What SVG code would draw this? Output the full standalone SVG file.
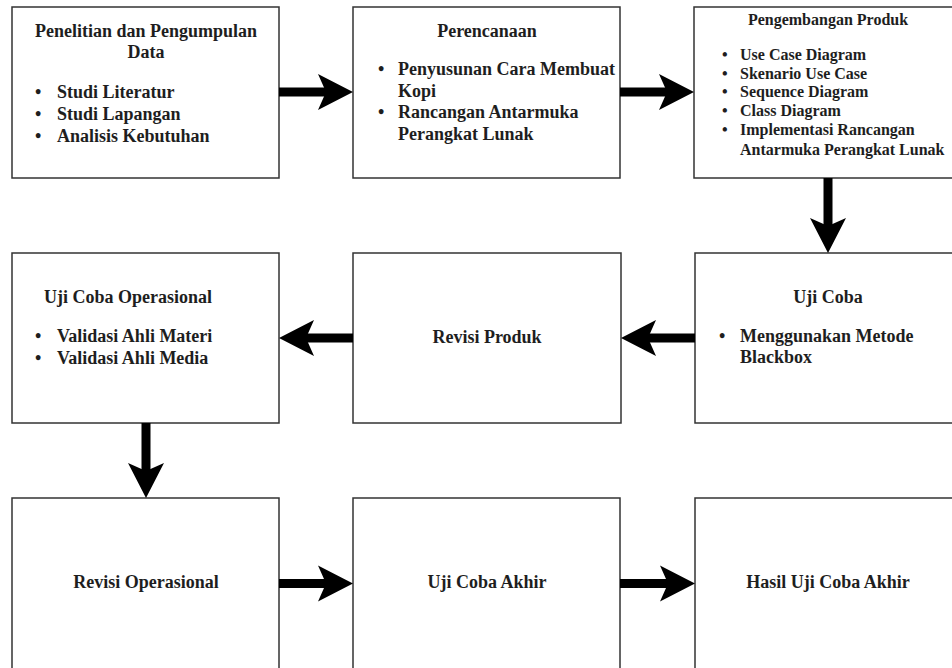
<svg xmlns="http://www.w3.org/2000/svg" width="952" height="668" viewBox="0 0 952 668">
<style>
.box{fill:#fff;stroke:#333;stroke-width:1.5}
text{font-family:"Liberation Serif","Times New Roman",serif;font-weight:bold;fill:#1e1e1e;font-size:18px}
.c{text-anchor:middle}
.s{font-size:16px}
.arr{fill:#000}
</style>
<defs>
<path id="ah" d="M0,0 L-35,-18 L-27,0 L-35,18 Z"/>
</defs>
<rect x="0" y="0" width="952" height="668" fill="#fff"/>
<g id="n1">
<rect class="box" x="12" y="7" width="267" height="171"/>
<text class="c" x="146" y="37">Penelitian dan Pengumpulan</text>
<text class="c" x="146" y="58">Data</text>
<text x="35" y="98">•</text><text x="57" y="98">Studi Literatur</text>
<text x="35" y="120">•</text><text x="57" y="120">Studi Lapangan</text>
<text x="35" y="142">•</text><text x="57" y="142">Analisis Kebutuhan</text>
</g>
<g id="n2">
<rect class="box" x="353" y="7" width="267" height="171"/>
<text class="c" x="487" y="37">Perencanaan</text>
<text x="378" y="75">•</text><text x="398" y="75">Penyusunan Cara Membuat</text>
<text x="398" y="97">Kopi</text>
<text x="378" y="118">•</text><text x="398" y="118">Rancangan Antarmuka</text>
<text x="398" y="140">Perangkat Lunak</text>
</g>
<g id="n3">
<rect class="box" x="694" y="7" width="280" height="171"/>
<text class="c s" x="828" y="25">Pengembangan Produk</text>
<text class="s" x="722" y="60">•</text><text class="s" x="740" y="60">Use Case Diagram</text>
<text class="s" x="722" y="79">•</text><text class="s" x="740" y="79">Skenario Use Case</text>
<text class="s" x="722" y="97">•</text><text class="s" x="740" y="97">Sequence Diagram</text>
<text class="s" x="722" y="116">•</text><text class="s" x="740" y="116">Class Diagram</text>
<text class="s" x="722" y="135">•</text><text class="s" x="740" y="135">Implementasi Rancangan</text>
<text class="s" x="740" y="155">Antarmuka Perangkat Lunak</text>
</g>
<g id="n4">
<rect class="box" x="12" y="253" width="267" height="170"/>
<text x="44" y="303">Uji Coba Operasional</text>
<text x="35" y="342">•</text><text x="57" y="342">Validasi Ahli Materi</text>
<text x="35" y="364">•</text><text x="57" y="364">Validasi Ahli Media</text>
</g>
<g id="n5">
<rect class="box" x="353" y="253" width="268" height="170"/>
<text class="c" x="487" y="343">Revisi Produk</text>
</g>
<g id="n6">
<rect class="box" x="695" y="253" width="280" height="170"/>
<text class="c" x="828" y="303">Uji Coba</text>
<text x="719" y="342">•</text><text x="740" y="342">Menggunakan Metode</text>
<text x="740" y="363">Blackbox</text>
</g>
<g id="n7">
<rect class="box" x="12" y="498" width="267" height="190"/>
<text class="c" x="146" y="588">Revisi Operasional</text>
</g>
<g id="n8">
<rect class="box" x="353" y="498" width="267" height="190"/>
<text class="c" x="487" y="588">Uji Coba Akhir</text>
</g>
<g id="n9">
<rect class="box" x="695" y="498" width="280" height="190"/>
<text class="c" x="828" y="588">Hasil Uji Coba Akhir</text>
</g>
<g id="connectors" class="arr">
<rect x="279" y="87.5" width="49" height="9"/>
<use href="#ah" transform="translate(353,92)"/>
<rect x="620" y="87.5" width="49" height="9"/>
<use href="#ah" transform="translate(694,92)"/>
<rect x="823.5" y="178" width="9" height="50"/>
<use href="#ah" transform="translate(828,253) rotate(90)"/>
<rect x="646" y="333.5" width="49" height="9"/>
<use href="#ah" transform="translate(621,338) rotate(180)"/>
<rect x="304" y="333.5" width="49" height="9"/>
<use href="#ah" transform="translate(279,338) rotate(180)"/>
<rect x="141.5" y="423" width="9" height="50"/>
<use href="#ah" transform="translate(146,498) rotate(90)"/>
<rect x="279" y="579" width="49" height="9"/>
<use href="#ah" transform="translate(353,583.5)"/>
<rect x="620" y="579" width="49" height="9"/>
<use href="#ah" transform="translate(695,583.5)"/>
</g>
</svg>
